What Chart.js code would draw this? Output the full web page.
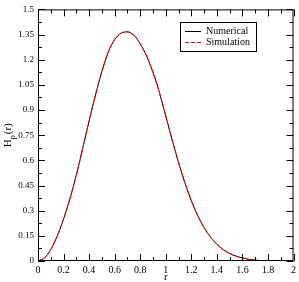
<!DOCTYPE html>
<html>
<head>
<meta charset="utf-8">
<script src="https://cdn.jsdelivr.net/npm/chart.js@4/dist/chart.umd.min.js"></script>
<style>
  html, body { margin: 0; padding: 0; background: #fff; }
  #wrap { width: 299px; height: 282px; }
</style>
</head>
<body>
<div id="wrap"><canvas id="chart"></canvas></div>
<script>
// Values
const rValues = [0, 0.05, 0.1, 0.15, 0.2, 0.25, 0.3, 0.35, 0.4, 0.45, 0.5, 0.55, 0.6, 0.65, 0.7, 0.75,
  0.8, 0.85, 0.9, 0.95, 1.0, 1.05, 1.1, 1.15, 1.2, 1.25, 1.3, 1.35, 1.4, 1.45, 1.5, 1.55, 1.6, 1.65,
  1.7, 1.75, 1.8];
const numerical = [0, 0.018, 0.068, 0.148, 0.25, 0.372, 0.512, 0.672, 0.835, 0.99, 1.13, 1.245, 1.32,
  1.358, 1.366, 1.347, 1.295, 1.222, 1.125, 1.005, 0.865, 0.722, 0.588, 0.466, 0.36, 0.271, 0.199,
  0.143, 0.1, 0.068, 0.045, 0.029, 0.018, 0.01, 0.005, 0.002, 0];
const simulation = [0, 0.018, 0.068, 0.148, 0.25, 0.372, 0.512, 0.672, 0.835, 0.99, 1.13, 1.245, 1.32,
  1.358, 1.366, 1.347, 1.295, 1.222, 1.125, 1.005, 0.865, 0.722, 0.588, 0.466, 0.36, 0.271, 0.199,
  0.143, 0.1, 0.068, 0.045, 0.029, 0.018, 0.01, 0.005, 0.002, 0];
const xTicks = [0, 0.2, 0.4, 0.6, 0.8, 1, 1.2, 1.4, 1.6, 1.8, 2];
const yTicks = [0, 0.15, 0.3, 0.45, 0.6, 0.75, 0.9, 1.05, 1.2, 1.35, 1.5];

const serif = '"Liberation Serif", "DejaVu Serif", serif';

function fmt(v) {
  return String(Number(v.toFixed(2)));
}

// frame + inward ticks on all four sides (major and minor)
const frameTicks = {
  id: 'frameTicks',
  afterDraw(chart) {
    const { ctx, chartArea: a, scales } = chart;
    ctx.save();
    ctx.strokeStyle = '#000';
    ctx.lineWidth = 1;
    ctx.strokeRect(a.left + 0.5, a.top + 0.5, a.right - a.left - 1, a.bottom - a.top - 1);
    ctx.beginPath();
    xTicks.forEach((v, i) => {
      const px = Math.round(scales.x.getPixelForValue(v)) + 0.5;
      ctx.moveTo(px, a.bottom); ctx.lineTo(px, a.bottom - 7);
      ctx.moveTo(px, a.top); ctx.lineTo(px, a.top + 7);
      if (i < xTicks.length - 1) {
        const mx = Math.round(scales.x.getPixelForValue((v + xTicks[i + 1]) / 2)) + 0.5;
        ctx.moveTo(mx, a.bottom); ctx.lineTo(mx, a.bottom - 4);
        ctx.moveTo(mx, a.top); ctx.lineTo(mx, a.top + 4);
      }
    });
    yTicks.forEach((v, i) => {
      const py = Math.round(scales.y.getPixelForValue(v)) + 0.5;
      ctx.moveTo(a.left, py); ctx.lineTo(a.left + 7, py);
      ctx.moveTo(a.right, py); ctx.lineTo(a.right - 7, py);
      if (i < yTicks.length - 1) {
        const my = Math.round(scales.y.getPixelForValue((v + yTicks[i + 1]) / 2)) + 0.5;
        ctx.moveTo(a.left, my); ctx.lineTo(a.left + 4, my);
        ctx.moveTo(a.right, my); ctx.lineTo(a.right - 4, my);
      }
    });
    ctx.stroke();

    // axis titles
    ctx.fillStyle = '#000';
    ctx.font = '11px ' + serif;
    ctx.textAlign = 'center';
    ctx.textBaseline = 'alphabetic';
    ctx.fillText('r', (a.left + a.right) / 2, 280);

    ctx.translate(11, (a.top + a.bottom) / 2);
    ctx.rotate(-Math.PI / 2);
    ctx.textAlign = 'left';
    const wH = ctx.measureText('H').width;
    ctx.font = '8px ' + serif;
    const wp = ctx.measureText('p').width;
    ctx.font = '11px ' + serif;
    const wr = ctx.measureText('(r)').width;
    let x0 = -(wH + wp + 1 + wr) / 2;
    ctx.fillText('H', x0, 0);
    ctx.font = '8px ' + serif;
    ctx.fillText('p', x0 + wH, 4);
    ctx.font = '11px ' + serif;
    ctx.fillText('(r)', x0 + wH + wp + 1, 0);
    ctx.restore();
  }
};

// legend box inside plot
const boxLegend = {
  id: 'boxLegend',
  afterDraw(chart) {
    const { ctx } = chart;
    ctx.save();
    ctx.strokeStyle = '#000';
    ctx.lineWidth = 1;
    ctx.strokeRect(180.5, 22.5, 76, 29);
    ctx.font = '10px ' + serif;
    ctx.textBaseline = 'middle';
    ctx.fillStyle = '#000';
    chart.data.datasets.forEach((ds, i) => {
      const y = 31.5 + i * 11;
      ctx.strokeStyle = ds.borderColor;
      ctx.setLineDash(ds.borderDash || []);
      ctx.beginPath();
      ctx.moveTo(185, y); ctx.lineTo(201, y);
      ctx.stroke();
      ctx.setLineDash([]);
      ctx.fillText(ds.label, 206, y);
    });
    ctx.restore();
  }
};

new Chart(document.getElementById('chart'), {
  type: 'line',
  data: {
    datasets: [
      {
        label: 'Numerical',
        data: rValues.map((r, i) => ({ x: r, y: numerical[i] })),
        borderColor: '#000000',
        borderWidth: 1,
        pointRadius: 0,
        cubicInterpolationMode: 'monotone',
        order: 2
      },
      {
        label: 'Simulation',
        data: rValues.map((r, i) => ({ x: r, y: simulation[i] })),
        borderColor: '#ff0000',
        borderWidth: 1,
        borderDash: [4, 2],
        pointRadius: 0,
        cubicInterpolationMode: 'monotone',
        order: 1
      }
    ]
  },
  options: {
    responsive: true,
    maintainAspectRatio: false,
    animation: false,
    layout: { padding: { top: 5, right: 4, left: 0, bottom: 0 } },
    plugins: {
      legend: { display: false },
      tooltip: { enabled: false }
    },
    scales: {
      x: {
        type: 'linear',
        min: 0,
        max: 2,
        grid: { display: false, drawTicks: false },
        border: { display: false },
        afterBuildTicks: (scale) => { scale.ticks = xTicks.map(v => ({ value: v })); },
        afterFit: (scale) => { scale.height = 21; },
        ticks: {
          padding: 3,
          color: '#000',
          maxRotation: 0,
          autoSkip: false,
          font: { family: serif, size: 10 },
          callback: (v) => fmt(v)
        }
      },
      y: {
        type: 'linear',
        min: 0,
        max: 1.5,
        grid: { display: false, drawTicks: false },
        border: { display: false },
        afterBuildTicks: (scale) => { scale.ticks = yTicks.map(v => ({ value: v })); },
        afterFit: (scale) => { scale.width = 38; },
        ticks: {
          padding: 4,
          color: '#000',
          autoSkip: false,
          font: { family: serif, size: 9 },
          callback: (v) => fmt(v)
        }
      }
    }
  },
  plugins: [frameTicks, boxLegend]
});
</script>
</body>
</html>
